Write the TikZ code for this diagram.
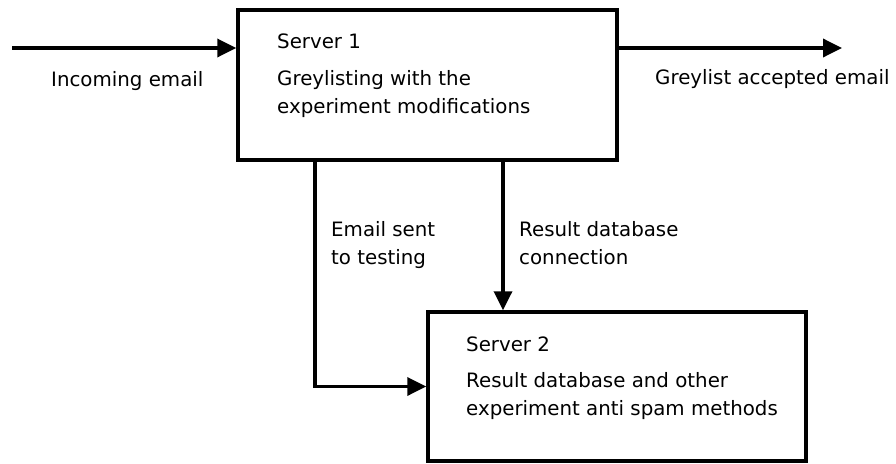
\documentclass[tikz,border=0pt]{standalone}
\usepackage{fontspec}
\setmainfont{DejaVu Sans}
\usetikzlibrary{arrows.meta}

\tikzset{
  server/.style={draw, line width=3.5pt, inner sep=0pt},
  txt/.style={inner sep=0pt, font=\fontsize{19.8}{28}\selectfont},
  flow/.style={line width=3.5pt, -{Triangle[length=19pt, width=18pt]}},
}

\begin{document}
\begin{tikzpicture}[x=1pt, y=-1pt]
\useasboundingbox (0,0) rectangle (896,463);

\node[server, minimum width=379pt, minimum height=150pt] (s1) at (427.5,85) {};
\node[server, minimum width=378pt, minimum height=149pt] (s2) at (617,386.5) {};

\node[txt, anchor=base west] (s1head) at (277,48) {Server 1};
\node[txt, anchor=base west, align=left] (s1text) at (277,113) {Greylisting with the\\experiment modifications};
\node[txt, anchor=base west] (s2head) at (466,351) {Server 2};
\node[txt, anchor=base west, align=left] (s2text) at (466,415) {Result database and other\\experiment anti spam methods};

\coordinate (in) at (12,48);
\coordinate (out) at (842,48);

\draw[flow] (in) -- (s1.west |- in);
\draw[flow] (s1.east |- out) -- (out);
\draw[flow] (s1.south -| 315,0) |- (s2.west);
\draw[flow] (s1.south -| 503,0) -- (s2.north -| 503,0);

\node[txt, anchor=base west] (inlbl) at (51,86) {Incoming email};
\node[txt, anchor=base west] (outlbl) at (655,84) {Greylist accepted email};
\node[txt, anchor=base west, align=left] (sentlbl) at (331,264) {Email sent\\to testing};
\node[txt, anchor=base west, align=left] (dblbl) at (519,264) {Result database\\connection};
\end{tikzpicture}
\end{document}
